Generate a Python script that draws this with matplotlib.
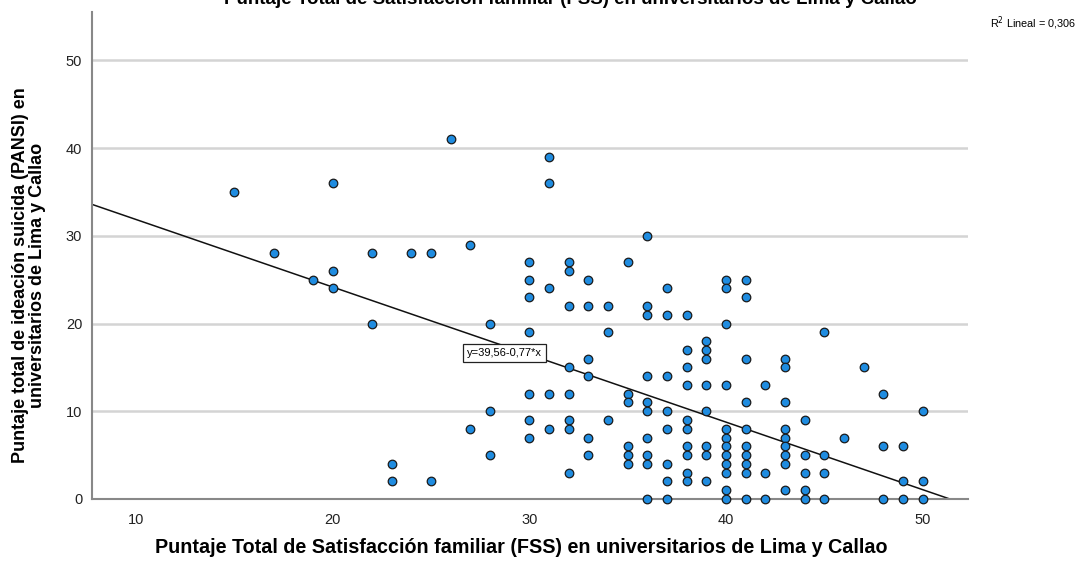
import matplotlib.pyplot as plt
import numpy as np

# FSS (x) vs PANSI (y), one column of y values per FSS score
fss_cols = [15, 17, 19, 20, 22, 23, 24, 25, 26, 27, 28, 30, 31, 32, 33, 34, 35,
            36, 37, 38, 39, 40, 41, 42, 43, 44, 45, 46, 47, 48, 49, 50]
pansi_cols = [
    [35],
    [28],
    [25],
    [36, 26, 24],
    [28, 20],
    [4, 2],
    [28],
    [28, 2],
    [41],
    [29, 8],
    [20, 10, 5],
    [27, 25, 23, 19, 12, 9, 7],
    [39, 36, 24, 12, 8],
    [27, 26, 22, 15, 12, 9, 8, 3],
    [25, 22, 16, 14, 7, 5],
    [22, 19, 9],
    [27, 12, 11, 6, 5, 4],
    [30, 22, 21, 14, 11, 10, 7, 5, 4, 0],
    [24, 21, 14, 10, 8, 4, 2, 0],
    [21, 17, 15, 13, 9, 8, 6, 5, 3, 2],
    [18, 17, 16, 13, 10, 6, 5, 2],
    [25, 24, 20, 13, 8, 7, 6, 5, 4, 3, 1, 0],
    [25, 23, 16, 11, 8, 6, 5, 4, 3, 0],
    [13, 3, 0],
    [16, 15, 11, 8, 7, 6, 5, 4, 1],
    [9, 5, 3, 1, 0],
    [19, 5, 3, 0],
    [7],
    [15],
    [12, 6, 0],
    [6, 2, 0],
    [10, 2, 0],
]
intercept = 39.56
slope = -0.77
eq_label = "y=39,56-0,77*x"
r2_label = "R$^2$ Lineal = 0,306"
title = "Puntaje Total de Satisfacción familiar (FSS) en universitarios de Lima y Callao"

x = []
y = []
for fx, ys in zip(fss_cols, pansi_cols):
    for v in ys:
        x.append(fx)
        y.append(v)

plt.rcParams['font.family'] = ['Liberation Sans', 'DejaVu Sans']

fig = plt.figure(figsize=(10.84, 5.62), dpi=100)
ax = fig.add_axes([0.0849, 0.1121, 0.8081, 0.8665])

xmin, xmax = 7.77, 52.3
ax.set_xlim(xmin, xmax)
ax.set_ylim(0, 55.5)

for yv in [10, 20, 30, 40, 50]:
    ax.axhline(yv, color='#d4d4d4', lw=1.8, zorder=0)

ax.scatter(x, y, s=38, c='#1f8ce0', edgecolors='#1a1a1a', linewidths=0.9,
           zorder=3, clip_on=False)

# fit line from the left edge down to y = 0
x_end = -intercept / slope
lx = np.array([xmin, x_end])
ax.plot(lx, intercept + slope * lx, color='#111111', lw=1.1, zorder=2)

ax.text(28.73, 16.65, eq_label, fontsize=8, ha='center', va='center', zorder=5,
        bbox=dict(boxstyle='square,pad=0.35', fc='white', ec='#222222', lw=0.9))

for s in ['top', 'right']:
    ax.spines[s].set_visible(False)
for s in ['left', 'bottom']:
    ax.spines[s].set_color('#888888')
    ax.spines[s].set_linewidth(1.5)

ax.set_xticks([10, 20, 30, 40, 50])
ax.set_yticks([0, 10, 20, 30, 40, 50])
ax.tick_params(length=0, labelsize=10.5, labelcolor='#222222')
ax.tick_params(axis='x', pad=10)
ax.tick_params(axis='y', pad=7)

ax.set_xlabel(title, fontsize=14.2, fontweight='bold')
ax.xaxis.set_label_coords(0.49, -0.08)
ax.set_ylabel("Puntaje total de ideación suicida (PANSI) en\nuniversitarios de Lima y Callao",
              fontsize=13, fontweight='bold', linespacing=0.95)
ax.yaxis.set_label_coords(-0.053, 0.46)

fig.text(0.526, 1.0, title, fontsize=13.5, fontweight='bold', ha='center', va='center')
fig.text(0.993, 0.958, r2_label, fontsize=7.8, ha='right', va='center')

plt.savefig("out.png", dpi=100)
